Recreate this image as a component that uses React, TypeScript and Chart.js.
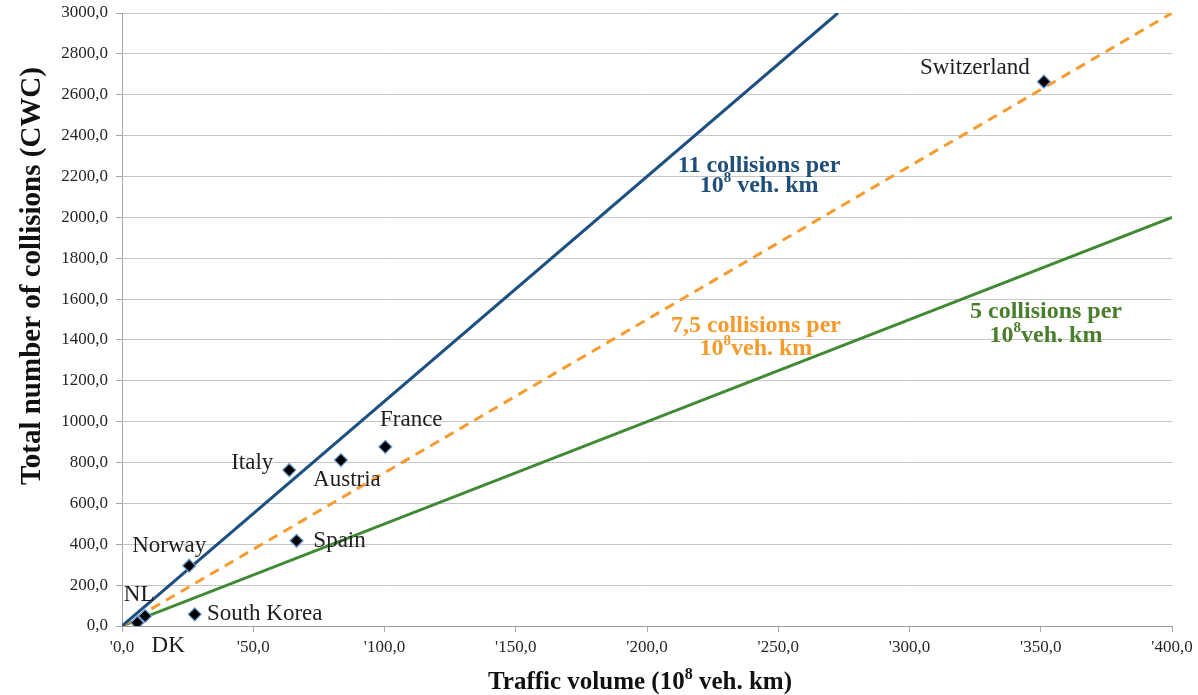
import React, { useEffect, useRef } from "react";
import { Chart, registerables } from "chart.js";

Chart.register(...registerables);

// Countries: traffic volume (10^8 veh. km) and collisions with wildlife (CWC)
const countries = ["Switzerland", "France", "Austria", "Italy", "Spain", "Norway", "South Korea", "NL", "DK"];
const trafficVolume = [351.2, 100.3, 83.4, 63.7, 66.5, 25.6, 27.7, 8.8, 5.8];
const collisions = [2664, 877, 812, 763, 417, 295, 57, 49, 16];

// Reference rates (collisions per 10^8 veh. km)
const rates = [11, 7.5, 5];
const rateColors = ["#1d4f81", "#f79b2e", "#3f8a33"];
const rateTextColors = ["#1f4e79", "#f59a2c", "#4a7e2d"];
const rateDashes: number[][] = [[], [10, 7], []];

// Axis ranges and tick steps
const xMax = 400;
const yMax = 3000;
const xStep = 50;
const yStep = 200;

// Placement of country labels relative to their marker, in pixels
const labelOffsets: [number, number][] = [
  [-69, -14],
  [26, -27],
  [6, 20],
  [-37, -7],
  [43, 0],
  [-20, -20],
  [70, 0],
  [-6, -21],
  [31, 23],
];

// Rate annotations: text lines, anchor in data units, line gap in pixels
type Seg = { t: string; sup?: boolean };
const rateLabels: { lines: Seg[][]; x: number; y: number; gap: number }[] = [
  {
    lines: [[{ t: "11 collisions per" }], [{ t: "10" }, { t: "8", sup: true }, { t: " veh. km" }]],
    x: 242.7,
    y: 2202,
    gap: 20,
  },
  {
    lines: [[{ t: "7,5 collisions per" }], [{ t: "10" }, { t: "8", sup: true }, { t: "veh. km" }]],
    x: 241.5,
    y: 1412,
    gap: 23,
  },
  {
    lines: [[{ t: "5 collisions per" }], [{ t: "10" }, { t: "8", sup: true }, { t: "veh. km" }]],
    x: 352,
    y: 1478,
    gap: 24,
  },
];

const xTitle: Seg[] = [{ t: "Traffic volume (10" }, { t: "8", sup: true }, { t: " veh. km)" }];
const yTitle: Seg[] = [{ t: "Total number of collisions (CWC)" }];

const SERIF = "'Liberation Serif', 'Times New Roman', serif";

function fmt(v: number): string {
  return v.toFixed(1).replace(".", ",");
}

function drawRich(
  ctx: CanvasRenderingContext2D,
  segs: Seg[],
  cx: number,
  cy: number,
  size: number,
  bold: boolean,
  color: string
) {
  const w = bold ? "bold " : "";
  const main = `${w}${size}px ${SERIF}`;
  const sup = `${w}${Math.round(size * 0.62)}px ${SERIF}`;
  let total = 0;
  const widths = segs.map((s) => {
    ctx.font = s.sup ? sup : main;
    const m = ctx.measureText(s.t).width;
    total += m;
    return m;
  });
  let x = cx - total / 2;
  ctx.fillStyle = color;
  ctx.textAlign = "left";
  ctx.textBaseline = "middle";
  segs.forEach((s, i) => {
    ctx.font = s.sup ? sup : main;
    ctx.fillText(s.t, x, s.sup ? cy - size * 0.32 : cy);
    x += widths[i];
  });
}

const textPlugin = {
  id: "textOverlay",
  afterDatasetsDraw(chart: any) {
    const ctx: CanvasRenderingContext2D = chart.ctx;
    const xs = chart.scales.x;
    const ys = chart.scales.y;
    ctx.save();

    // country labels
    ctx.font = `23px ${SERIF}`;
    ctx.fillStyle = "#1e1e1e";
    ctx.textAlign = "center";
    ctx.textBaseline = "middle";
    countries.forEach((name, i) => {
      const px = xs.getPixelForValue(trafficVolume[i]);
      const py = ys.getPixelForValue(collisions[i]);
      const [dx, dy] = labelOffsets[i];
      ctx.fillText(name, px + dx, py + dy);
    });

    // rate annotations
    rateLabels.forEach((lab, i) => {
      const cx = xs.getPixelForValue(lab.x);
      const cy = ys.getPixelForValue(lab.y);
      const n = lab.lines.length;
      lab.lines.forEach((line, j) => {
        const ly = cy + (j - (n - 1) / 2) * lab.gap;
        drawRich(ctx, line, cx, ly, 24, true, rateTextColors[i]);
      });
    });

    // axis titles
    drawRich(ctx, xTitle, 640, 683, 25, true, "#111111");
    ctx.save();
    ctx.translate(33, 276);
    ctx.rotate(-Math.PI / 2);
    drawRich(ctx, yTitle, 0, 0, 29, true, "#111111");
    ctx.restore();

    ctx.restore();
  },
};

export default function App() {
  const ref = useRef<HTMLCanvasElement | null>(null);

  useEffect(() => {
    document.body.style.margin = "0";
    const canvas = ref.current;
    if (!canvas) return;

    const lineSets = rates.map((r, i) => {
      const xEnd = Math.min(xMax, yMax / r);
      return {
        type: "line" as const,
        label: `${r}`,
        data: [
          { x: 0, y: 0 },
          { x: xEnd, y: r * xEnd },
        ],
        borderColor: rateColors[i],
        borderWidth: 3,
        borderDash: rateDashes[i],
        pointRadius: 0,
        fill: false,
        order: 2,
      };
    });

    const chart = new Chart(canvas, {
      type: "scatter",
      data: {
        datasets: [
          {
            label: "Countries",
            data: countries.map((_, i) => ({ x: trafficVolume[i], y: collisions[i] })),
            pointStyle: "rectRot",
            pointRadius: 6.5,
            backgroundColor: "#000000",
            borderColor: "#6a9bd6",
            borderWidth: 1.2,
            order: 1,
          },
          ...lineSets,
        ] as any,
      },
      options: {
        animation: false,
        responsive: false,
        maintainAspectRatio: false,
        layout: { padding: { top: 13, right: 26, bottom: 0, left: 0 } },
        plugins: {
          legend: { display: false },
          tooltip: { enabled: false },
          title: { display: false },
        },
        scales: {
          x: {
            type: "linear",
            min: 0,
            max: xMax,
            afterFit: (s: any) => {
              s.height = 69;
              s.paddingLeft = 0;
              s.paddingRight = 0;
            },
            ticks: {
              stepSize: xStep,
              padding: 5,
              color: "#262626",
              font: { family: SERIF, size: 17 },
              callback: (v: any) => "'" + fmt(Number(v)),
              maxRotation: 0,
            },
            grid: {
              drawOnChartArea: false,
              drawTicks: true,
              tickLength: 6,
              color: "#a6a6a6",
            },
            border: { color: "#9a9a9a", width: 1 },
          },
          y: {
            type: "linear",
            min: 0,
            max: yMax,
            afterFit: (s: any) => {
              s.width = 122;
              s.paddingTop = 0;
              s.paddingBottom = 0;
            },
            ticks: {
              stepSize: yStep,
              padding: 8,
              color: "#262626",
              font: { family: SERIF, size: 17 },
              callback: (v: any) => fmt(Number(v)),
            },
            grid: {
              color: "#c6c6c6",
              tickLength: 6,
              tickColor: "#a6a6a6",
              lineWidth: 1,
            },
            border: { color: "#a6a6a6", width: 1 },
          },
        },
      },
      plugins: [textPlugin],
    });

    return () => chart.destroy();
  }, []);

  return (
    <div style={{ width: 1198, height: 695, background: "#ffffff" }}>
      <canvas ref={ref} width={1198} height={695} />
    </div>
  );
}
